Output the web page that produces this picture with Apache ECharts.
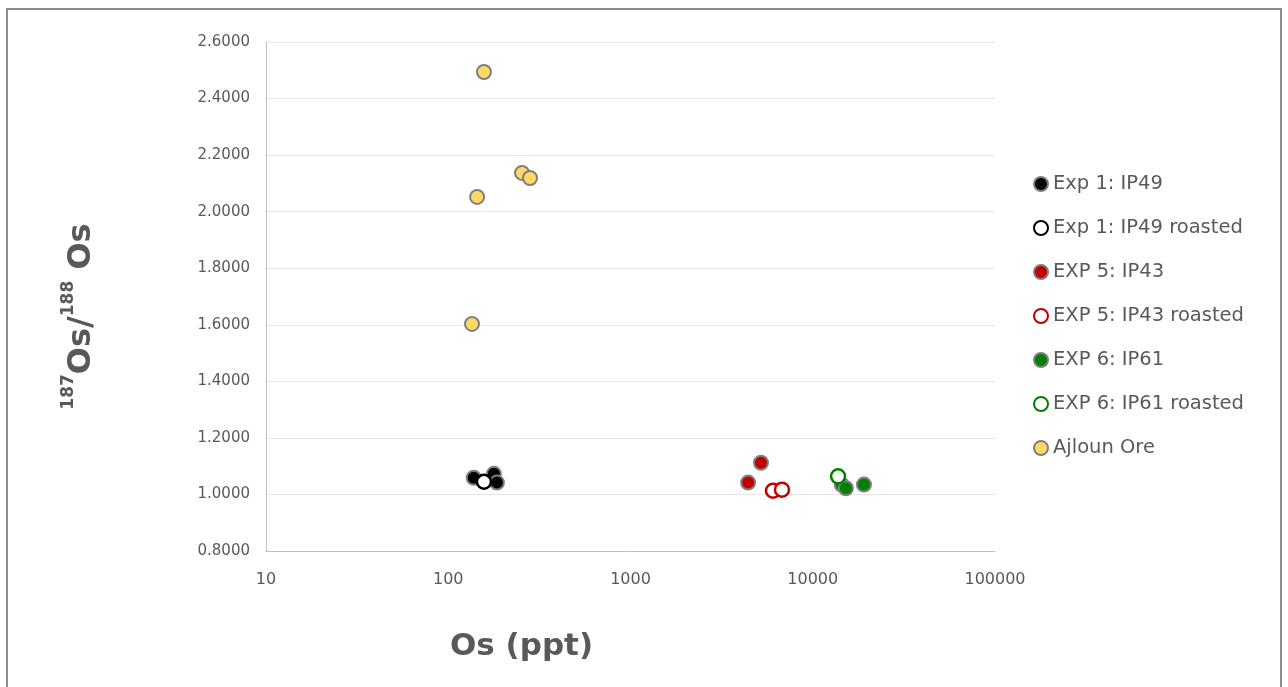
<!DOCTYPE html>
<html>
<head>
<meta charset="utf-8">
<script src="https://cdn.jsdelivr.net/npm/echarts@6/dist/echarts.min.js"></script>
<style>html,body{margin:0;padding:0;background:#fff;}#c{width:1288px;height:687px;}</style>
</head>
<body>
<div id="c"></div>
<script>
// Data: [Os (ppt), 187Os/188Os]
var exp1 = [[138, 1.059], [178, 1.073], [185, 1.042]];
var exp1Roasted = [[157, 1.045]];
var exp5 = [[5200, 1.112], [4420, 1.042]];
var exp5Roasted = [[6050, 1.013], [6780, 1.017]];
var exp6 = [[14450, 1.034], [15200, 1.022], [19100, 1.035]];
var exp6Roasted = [[13770, 1.064]];
var ajloun = [[157, 2.494], [254, 2.137], [281, 2.119], [144, 2.052], [135, 1.603]];
var seriesNames = ['Exp 1: IP49', 'Exp 1: IP49 roasted', 'EXP 5: IP43', 'EXP 5: IP43 roasted', 'EXP 6: IP61', 'EXP 6: IP61 roasted', 'Ajloun Ore'];

var FONT = '"DejaVu Sans", "Open Sans", sans-serif';
function filled(name, data, color) {
  return { name: name, type: 'scatter', data: data, symbol: 'circle', symbolSize: 14,
    itemStyle: { color: color, borderColor: '#7f7f7f', borderWidth: 2, opacity: 1 } };
}
function open(name, data, color) {
  return { name: name, type: 'scatter', data: data, symbol: 'circle', symbolSize: 14,
    itemStyle: { color: '#ffffff', borderColor: color, borderWidth: 2.5, opacity: 1 } };
}
var chart = echarts.init(document.getElementById('c'));
chart.setOption({
  animation: false,
  backgroundColor: '#ffffff',
  graphic: [{ type: 'rect', shape: { x: 7, y: 9, width: 1274, height: 700 },
    style: { fill: 'none', stroke: '#8c8c8c', lineWidth: 2 }, silent: true }],
  grid: { left: 266, right: 293, top: 42, bottom: 136 },
  legend: {
    orient: 'vertical', left: 1033, top: 174, itemGap: 24, padding: 0,
    itemWidth: 14, itemHeight: 14, icon: 'circle', itemTextGap: 8,
    textStyle: { fontFamily: FONT, fontSize: 19.5, color: '#595959' },
    data: seriesNames
  },
  xAxis: {
    type: 'log', logBase: 10, min: 10, max: 100000,
    name: 'Os (ppt)', nameLocation: 'middle', nameGap: 80,
    nameTextStyle: { fontFamily: FONT, fontSize: 31, fontWeight: 'bold', color: '#595959', padding: [0, 218, 0, 0] },
    axisLine: { show: true, lineStyle: { color: '#bfbfbf', width: 1 } },
    axisTick: { show: false },
    splitLine: { show: false },
    minorTick: { show: false },
    axisLabel: { fontFamily: FONT, fontSize: 16, color: '#595959', margin: 21,
      formatter: function (v) { return String(Math.round(v)); } }
  },
  yAxis: {
    type: 'value', min: 0.8, max: 2.6, interval: 0.2,
    name: '{sup|187}{b|Os/}{sup|188}{b| Os}', nameLocation: 'middle', nameGap: 168,
    nameTextStyle: {
      padding: [0, 40, 0, 0],
      rich: {
        b: { fontFamily: FONT, fontSize: 32, fontWeight: 'bold', color: '#595959', lineHeight: 38, verticalAlign: 'bottom' },
        sup: { fontFamily: FONT, fontSize: 17, fontWeight: 'bold', color: '#595959', lineHeight: 38, verticalAlign: 'top' }
      }
    },
    axisLine: { show: true, lineStyle: { color: '#bfbfbf', width: 1 } },
    axisTick: { show: false },
    splitLine: { show: true, lineStyle: { color: '#e6e6e6', width: 1 } },
    axisLabel: { fontFamily: FONT, fontSize: 15, color: '#595959', margin: 16,
      formatter: function (v) { return v.toFixed(4); } }
  },
  series: [
    filled(seriesNames[0], exp1, '#000000'),
    open(seriesNames[1], exp1Roasted, '#000000'),
    filled(seriesNames[2], exp5, '#c00000'),
    open(seriesNames[3], exp5Roasted, '#c00000'),
    filled(seriesNames[4], exp6, '#008000'),
    open(seriesNames[5], exp6Roasted, '#008000'),
    filled(seriesNames[6], ajloun, '#ffd966')
  ]
});
</script>
</body>
</html>
